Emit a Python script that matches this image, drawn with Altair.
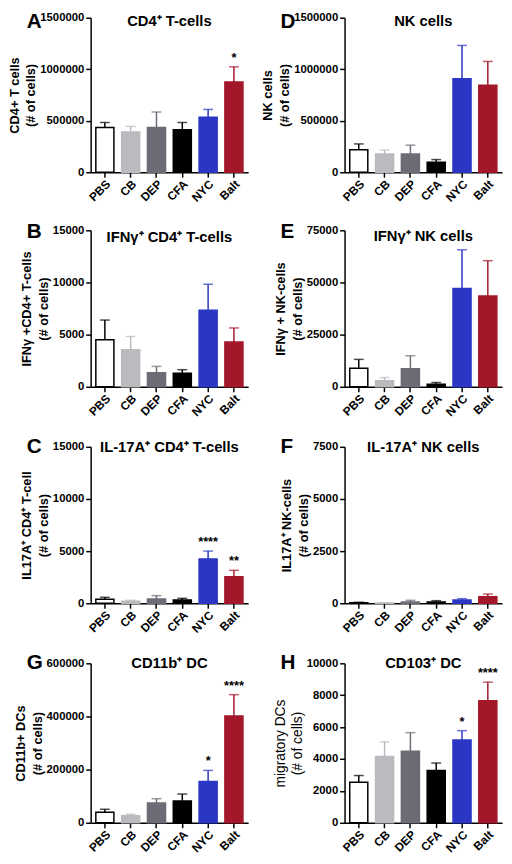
import altair as alt
import pandas as pd

FONT = "Liberation Sans"

groups = ["PBS", "CB", "DEP", "CFA", "NYC", "Balt"]
fills = ["#ffffff", "#b9bbbe", "#6c6c77", "#000000", "#2b37c4", "#a3172b"]
strokes = ["#000000", "#b9bbbe", "#6c6c77", "#000000", "#2b37c4", "#a3172b"]
err_colors = ["#000000", "#b9bbbe", "#6c6c77", "#000000", "#2b37c4", "#a3172b"]

letters = ["A", "D", "B", "E", "C", "F", "G", "H"]
titles = ["CD4⁺ T-cells", "NK cells", "IFNγ⁺ CD4⁺ T-cells", "IFNγ⁺ NK  cells",
          "IL-17A⁺ CD4⁺ T-cells", "IL-17A⁺ NK  cells", "CD11b⁺ DC", "CD103⁺ DC"]
ytitles = [["CD4+  T cells", "(# of cells)"], ["NK cells", "(# of cells)"],
           ["IFNγ +CD4+ T-cells", "(# of cells)"], ["IFNγ + NK-cells", "(# of cells)"],
           ["IL17A⁺ CD4⁺  T-cell", "(# of cells)"], ["IL17A⁺ NK-cells", "(# of cells)"],
           ["CD11b+ DCs", "(# of cells)"], ["migratory DCs", "(# of cells)"]]

a_mean = [435000, 391000, 435000, 413000, 534000, 877000]
a_upper = [483000, 445000, 585000, 483000, 610000, 1023000]
a_stars = ["", "", "", "", "", "*"]

d_mean = [218000, 177000, 177000, 98000, 908000, 845000]
d_upper = [275000, 215000, 263000, 123000, 1231000, 1076000]
d_stars = ["", "", "", "", "", ""]

b_mean = [4506, 3561, 1355, 1292, 7342, 4286]
b_upper = [6397, 4821, 1954, 1639, 9832, 5641]
b_stars = ["", "", "", "", "", ""]

e_mean = [8861, 2848, 8703, 1266, 47152, 43513]
e_upper = [13133, 4430, 14873, 2057, 65665, 60443]
e_stars = ["", "", "", "", "", ""]

c_mean = [383, 191, 415, 319, 4245, 2553]
c_upper = [574, 287, 734, 479, 5011, 3160]
c_stars = ["", "", "", "", "****", "**"]

f_mean = [30, 10, 63, 63, 159, 317]
f_upper = [50, 20, 143, 127, 222, 444]
f_stars = ["", "", "", "", "", ""]

g_mean = [39700, 26000, 74000, 82000, 155000, 402000]
g_upper = [50800, 32000, 90500, 108000, 197000, 482000]
g_stars = ["", "", "", "", "*", "****"]

h_mean = [2547, 4161, 4493, 3271, 5197, 7660]
h_upper = [2961, 5072, 5652, 3747, 5776, 8820]
h_stars = ["", "", "", "", "*", "****"]

means = [a_mean, d_mean, b_mean, e_mean, c_mean, f_mean, g_mean, h_mean]
uppers = [a_upper, d_upper, b_upper, e_upper, c_upper, f_upper, g_upper, h_upper]
stars = [a_stars, d_stars, b_stars, e_stars, c_stars, f_stars, g_stars, h_stars]
ymaxes = [1500000, 1500000, 15000, 75000, 15000, 7500, 600000, 10000]
tick_values = [
    [0, 500000, 1000000, 1500000], [0, 500000, 1000000, 1500000],
    [0, 5000, 10000, 15000], [0, 25000, 50000, 75000],
    [0, 5000, 10000, 15000], [0, 2500, 5000, 7500],
    [0, 200000, 400000, 600000], [0, 2000, 4000, 6000, 8000, 10000],
]
heights = [157, 157, 159, 159, 159, 159, 162, 162]
title_dy = [3, 3, 7, 6, 0, 0, 0, 0]
letter_dy = [4, 4, 2, 2, 0, 0, 0, 0]
ytitle_weights = ["bold"] * 7 + ["normal"]
ytitle_sizes = [13] * 7 + [14]

W = 160


def panel(i):
    df = pd.DataFrame({
        "group": groups, "mean": means[i], "upper": uppers[i], "stars": stars[i],
        "fill": fills, "stroke": strokes, "err": err_colors,
    })
    xaxis = alt.Axis(title=None, labelAngle=-45, labelAlign="right",
                     labelBaseline="top", tickSize=5, labelPadding=1,
                     labelFontSize=12)
    xscale = alt.Scale(paddingInner=0.3, paddingOuter=0.2)
    yaxis = alt.Axis(values=tick_values[i], format="d", tickSize=5,
                     labelPadding=2, labelOverlap=False, labelSeparation=0,
                     title=ytitles[i], titlePadding=2, titleLineHeight=17,
                     titleFontSize=ytitle_sizes[i],
                     titleFontWeight=ytitle_weights[i])
    yscale = alt.Scale(domain=[0, ymaxes[i]], nice=False)

    def X():
        return alt.X("group:N", sort=groups, scale=xscale, axis=xaxis)

    def Y(field):
        return alt.Y(field, scale=yscale, axis=yaxis)

    base = alt.Chart(df)
    bars = base.mark_bar(strokeWidth=1.5).encode(
        x=X(), y=Y("mean:Q"),
        fill=alt.Fill("fill:N", scale=None),
        stroke=alt.Stroke("stroke:N", scale=None),
    )
    rule = base.mark_rule(strokeWidth=1.5).encode(
        x=X(), y=Y("mean:Q"), y2="upper:Q",
        color=alt.Color("err:N", scale=None),
    )
    cap = base.mark_tick(thickness=1.5, size=10).encode(
        x=X(), y=Y("upper:Q"),
        color=alt.Color("err:N", scale=None),
    )
    star = base.mark_text(dy=-9, fontSize=13, fontWeight="bold", font=FONT, color="black").encode(
        x=X(), y=Y("upper:Q"), text="stars:N",
    )
    ttl = alt.Chart(pd.DataFrame({"t": [titles[i]]})).mark_text(
        fontSize=15, fontWeight="bold", font=FONT, align="center", baseline="middle", color="black"
    ).encode(x=alt.value(W / 2), y=alt.value(title_dy[i]), text="t:N")
    let = alt.Chart(pd.DataFrame({"t": [letters[i]]})).mark_text(
        fontSize=21, fontWeight="bold", font=FONT, align="left", baseline="middle", color="black"
    ).encode(x=alt.value(-65), y=alt.value(letter_dy[i]), text="t:N")
    return alt.layer(bars, rule, cap, star, ttl, let).properties(width=W, height=heights[i])


chart = alt.concat(*[panel(i) for i in range(8)], columns=2,
                   spacing={"row": 18, "column": 14}).properties(
    padding={"left": 0, "top": -4, "right": 2, "bottom": 2}
).configure_view(stroke=None).configure_axis(
    labelFont=FONT, titleFont=FONT, labelFontWeight="bold", labelFontSize=11.5,
    labelColor="black", titleColor="black", titleFontSize=13, titleFontWeight="bold",
    domainColor="black", tickColor="black", domainWidth=1.5, tickWidth=1.5, grid=False,
)

chart.save("out.html", embed_options={"renderer": "svg", "actions": False})
